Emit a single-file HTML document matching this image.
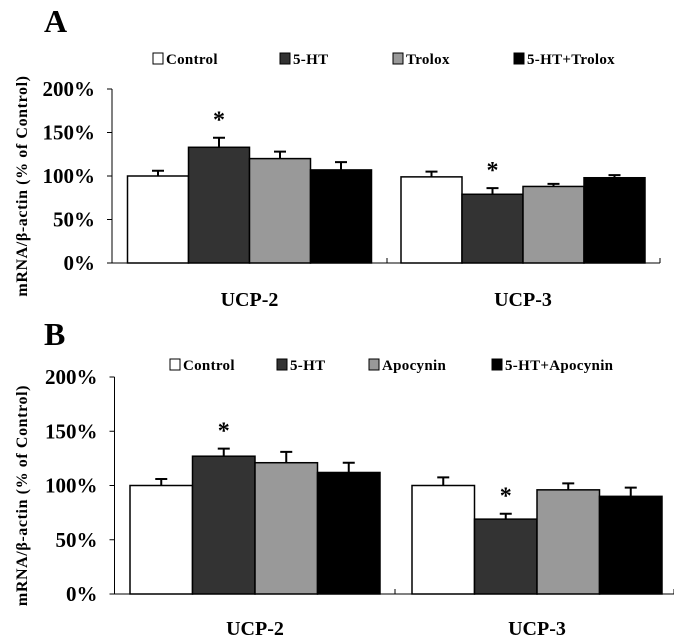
<!DOCTYPE html>
<html><head><meta charset="utf-8"><style>
html,body{margin:0;padding:0;background:#fff;}
svg{display:block;font-family:"Liberation Serif",serif;font-weight:bold;}
</style></head><body>
<svg id="chart" width="674" height="640" viewBox="0 0 674 640" xmlns="http://www.w3.org/2000/svg"></svg>
<script>
const categories = ["UCP-2", "UCP-3"];
const yTicks = [0, 50, 100, 150, 200];
const seriesColors = ["#ffffff", "#333333", "#999999", "#000000"];
const seriesA = ["Control", "5-HT", "Trolox", "5-HT+Trolox"];
const valuesA = [[100, 133, 120, 107], [99, 79, 88, 98]];
const errorsA = [[106, 144, 128, 116], [105, 86, 91, 101]];
const starsA = [[false, true, false, false], [false, true, false, false]];
const seriesB = ["Control", "5-HT", "Apocynin", "5-HT+Apocynin"];
const valuesB = [[100, 127, 121, 112], [100, 69, 96, 90]];
const errorsB = [[106, 134, 131, 121], [107.5, 74, 102, 98]];
const starsB = [[false, true, false, false], [false, true, false, false]];

const svg = document.getElementById('chart');
const NS = 'http://www.w3.org/2000/svg';
function mk(tag, attrs, parent) {
  const e = document.createElementNS(NS, tag);
  for (const k in attrs) e.setAttribute(k, attrs[k]);
  (parent || svg).appendChild(e);
  return e;
}

function panel(cfg) {
  const g = mk('g', {});
  
  
  const y = v => cfg.y0 - (v / 200) * (cfg.y0 - cfg.y200);
  const L = mk('text', {x: 44, y: cfg.letterY, 'font-size': 32}, g);
  L.textContent = cfg.letter;
  
  
  const ax = mk('path', {d: `M${cfg.ax} ${cfg.y200}V${cfg.y0}H${cfg.axEnd}M${cfg.sep} ${cfg.y0}V${cfg.y0 - 5}M${cfg.axEnd} ${cfg.y0}V${cfg.y0 - 5}`, stroke: '#000', 'stroke-width': 1, fill: 'none'}, g);
  
  
  yTicks.forEach(t => {
    const tk = mk('path', {d: `M${cfg.ax - 5} ${y(t)}H${cfg.ax}`, stroke: '#000'}, g);
    
    
    const tl = mk('text', {x: cfg.ax - 17, y: y(t) + 7, 'text-anchor': 'end', 'font-size': 21}, g);
    tl.textContent = t + '%';
    
    
  });
  const yc = (cfg.y200 + cfg.y0) / 2 + 10;
  const yt = mk('text', {x: 0, y: 0, 'text-anchor': 'middle', 'font-size': 16, 'letter-spacing': '0.6', transform: `translate(27 ${yc}) rotate(-90)`}, g);
  yt.textContent = 'mRNA/\u03b2-actin  (% of Control)';
  
  
  categories.forEach((c, ci) => {
    cfg.values[ci].forEach((v, si) => {
      const x0 = cfg.groupStart[ci] + si * cfg.bw;
      const eb = mk('path', {d: `M${x0 + cfg.bw / 2} ${y(v)}V${y(cfg.errors[ci][si])}M${x0 + cfg.bw / 2 - 6} ${y(cfg.errors[ci][si])}H${x0 + cfg.bw / 2 + 6}`, stroke: '#000', 'stroke-width': 2}, g);
      
      
      const r = mk('rect', {x: x0, y: y(v), width: cfg.bw, height: cfg.y0 - y(v), fill: seriesColors[si], stroke: '#000', 'stroke-width': 1.5}, g);
      
      
      if (cfg.stars[ci][si]) {
        const s = mk('text', {x: x0 + cfg.bw / 2, y: y(cfg.errors[ci][si]) - 10, 'text-anchor': 'middle', 'font-size': 24}, g);
        s.textContent = '*';
        
        
      }
    });
    const cx = cfg.groupStart[ci] + cfg.bw * 2;
    const cl = mk('text', {x: cx, y: cfg.catY, 'text-anchor': 'middle', 'font-size': 20}, g);
    cl.textContent = c;
    
    
  });
  cfg.series.forEach((s, si) => {
    const lx = cfg.legX[si];
    const sq = mk('rect', {x: lx, y: cfg.legY - 11, width: 10, height: 11, fill: seriesColors[si], stroke: '#000', 'stroke-width': 1}, g);
    
    
    const lt = mk('text', {x: lx + 13, y: cfg.legY, 'font-size': 15, 'letter-spacing': '0.3'}, g);
    lt.textContent = s;
    
    
  });
}

panel({letter: 'A', letterY: 32, ax: 112, axEnd: 660, sep: 387, y200: 89, y0: 263,
  bw: 61, groupStart: [127.5, 401], values: valuesA, errors: errorsA, stars: starsA,
  series: seriesA, legX: [153, 280, 393, 514], legY: 64, catY: 306});
panel({letter: 'B', letterY: 345, ax: 114.5, axEnd: 674, sep: 395, y200: 377, y0: 594,
  bw: 62.5, groupStart: [130, 412], values: valuesB, errors: errorsB, stars: starsB,
  series: seriesB, legX: [170, 277, 369, 492], legY: 370, catY: 635});
</script>
</body></html>
